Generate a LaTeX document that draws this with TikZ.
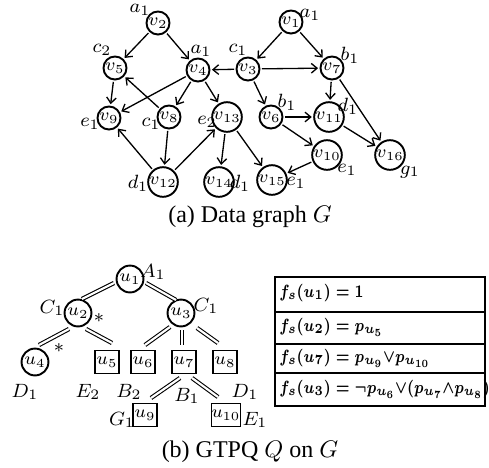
\RequirePackage{fix-cm}
\documentclass[tikz,border=0pt]{standalone}
\usepackage{amsmath}
\usepackage{fontspec}
\setmainfont{Liberation Serif}
\DeclareMathSizes{7.4}{7.4}{5.8}{4.6}
\usetikzlibrary{arrows.meta,calc}
\begin{document}
\begin{tikzpicture}[x=0.4167pt,y=-0.4167pt,
  vn/.style={circle,draw,line width=0.8pt,minimum size=9.6pt,inner sep=0pt,font=\fontsize{7.3}{8}\selectfont},
  un/.style={circle,draw,line width=0.8pt,minimum size=11.2pt,inner sep=0pt,font=\fontsize{7.3}{8}\selectfont},
  bx/.style={rectangle,draw,line width=0.8pt,minimum width=10pt,minimum height=9.6pt,inner sep=0pt,font=\fontsize{7.3}{8}\selectfont},
  lb/.style={inner sep=0pt,font=\fontsize{8}{10}\selectfont},
  captxt/.style={inner sep=0pt,font=\fontsize{10}{12}\selectfont},
  ar/.style={-{Straight Barb[length=2.4pt,width=4pt]},line width=0.55pt,shorten >=0.6pt,shorten <=0.6pt},
  dbl/.style={double,double distance=0.9pt,line width=0.45pt},
  tl/.style={line width=0.6pt},
  tt/.style={inner sep=0pt,anchor=base west,xscale=0.78,font=\fontsize{7.4}{9}\selectfont\boldmath}
]
\useasboundingbox (0,0) rectangle (489,468);
% ---------- (a) data graph ----------
\node[vn] (v1) at (291,22) {$v_1$};
\node[vn] (v2) at (158,23) {$v_2$};
\node[vn] (v3) at (248,69) {$v_3$};
\node[vn] (v4) at (198,70) {$v_4$};
\node[vn] (v5) at (115,68) {$v_5$};
\node[vn] (v6) at (271,117) {$v_6$};
\node[vn] (v7) at (332,68) {$v_7$};
\node[vn] (v8) at (169,117) {$v_8$};
\node[vn] (v9) at (109,118) {$v_9$};
\node[vn] (v10) at (327,155) {$v_{10}$};
\node[vn] (v11) at (329,117) {$v_{11}$};
\node[vn] (v12) at (163,182) {$v_{12}$};
\node[vn] (v13) at (227,117) {$v_{13}$};
\node[vn] (v14) at (219,182) {$v_{14}$};
\node[vn] (v15) at (272,180) {$v_{15}$};
\node[vn] (v16) at (390,155) {$v_{16}$};

\node[lb] (l1) at (310,15) {$a_1$};
\node[lb] (l2) at (140,10) {$a_1$};
\node[lb] (l3) at (238,50) {$c_1$};
\node[lb] (l4) at (201,51) {$a_1$};
\node[lb] (l5) at (102,50) {$c_2$};
\node[lb] (l6) at (287,102) {$b_1$};
\node[lb] (l7) at (350,55) {$b_1$};
\node[lb] (l8) at (151,124) {$c_1$};
\node[lb] (l9) at (90,124) {$e_1$};
\node[lb] (l10) at (347,170) {$e_1$};
\node[lb] (l11) at (348,106) {$d_1$};
\node[lb] (l12) at (138,183) {$d_1$};
\node[lb] (l13) at (207,122) {$e_2$};
\node[lb] (l14) at (240,183) {$d_1$};
\node[lb] (l15) at (296,183) {$e_1$};
\node[lb] (l16) at (410,172) {$g_1$};

\draw[ar] (v2) -- (v5);
\draw[ar] (v2) -- (v4);
\draw[ar] (v3) -- (v4);
\draw[ar] (v4) -- (v9);
\draw[ar] (v4) -- (v8);
\draw[ar] (v4) -- (v13);
\draw[ar] (v5) -- (v9);
\draw[ar] (v8) -- (v5);
\draw[ar] (v8) -- (v12);
\draw[ar] (v12) -- (v9);
\draw[ar] (v12) -- (v13);
\draw[ar] (v13) -- (v14);
\draw[ar] (v13) -- (v15);
\draw[ar] (v1) -- (v3);
\draw[ar] (v1) -- (v7);
\draw[ar] (v3) -- (v7);
\draw[ar] (v3) -- (v6);
\draw[ar] (v7) -- (v11);
\draw[ar] (v7) -- (v16);
\draw[ar] (v6) -- (v11);
\draw[ar] (v6) -- (v10);
\draw[ar] (v11) -- (v16);
\draw[ar] (v10) -- (v15);

\node[captxt] (capa) at (250,217) {(a) Data graph $G$};

% ---------- (b) GTPQ ----------
\node[un] (u1) at (130,279) {$u_1$};
\node[un] (u2) at (78,313) {$u_2$};
\node[un] (u3) at (181,313) {$u_3$};
\node[un] (u4) at (35,362) {$u_4$};
\node[bx] (u5) at (107,362) {$u_5$};
\node[bx] (u6) at (143,362) {$u_6$};
\node[bx] (u7) at (184,362) {$u_7$};
\node[bx] (u8) at (225,362) {$u_8$};
\node[bx] (u9) at (145,415) {$u_9$};
\node[bx] (u10) at (226,415) {$u_{\kern-0.3pt10}$};

\node[lb] (A1) at (153,272) {$A_1$};
\node[lb] (C1a) at (52,308) {$C_1$};
\node[lb] (s1) at (99,318) {$*$};
\node[lb] (C1b) at (206,306) {$C_1$};
\node[lb] (s2) at (59,348) {$*$};
\node[lb] (D1a) at (25,392) {$D_1$};
\node[lb] (E2) at (88,392) {$E_2$};
\node[lb] (B2) at (129,392) {$B_2$};
\node[lb] (B1) at (187,396) {$B_1$};
\node[lb] (D1b) at (245,392) {$D_1$};
\node[lb] (G1) at (122,420) {$G_1$};
\node[lb] (E1) at (255,420) {$E_1$};

\draw[dbl] ($(u1)+(-16,4)$) -- ($(u2)+(4,-14)$);
\draw[dbl] ($(u1)+(16,4)$) -- ($(u3)+(-5,-13)$);
\draw[dbl] ($(u2)+(-9,16)$) -- ($(u4)+(4,-17)$);
\draw[dbl] ($(u2)+(8,16)$) -- ($(u5)+(5,-19)$);
\draw[dbl] ($(u3)+(-11,14)$) -- ($(u6)+(2,-17)$);
\draw[dbl] ($(u3)+(1,17)$) -- ($(u7)+(-2,-17)$);
\draw[dbl] ($(u3)+(16,15)$) -- ($(u8)+(-7,-19)$);
\draw[dbl] ($(u7)+(-4,16)$) -- ($(u9)+(6,-17)$);
\draw[dbl] ($(u7)+(8,16)$) -- ($(u10)+(-8,-18)$);

% table
\draw[tl] (275,277) rectangle (485,406);
\draw[tl] (275,312) -- (485,312);
\draw[tl] (275,344) -- (485,344);
\draw[tl] (275,373) -- (485,373);
\node[tt] (f1) at (279,297) {$f_s(u_1) = 1$};
\node[tt] (f2) at (279,331) {$f_s(u_2) = p_{u_5}$};
\node[tt] (f3) at (279,362) {$f_s(u_7) = p_{u_9}{\vee}p_{u_{10}}$};
\node[tt] (f4) at (279,393) {$f_s(u_3) = \neg p_{u_6}{\vee}(p_{u_7}{\wedge}p_{u_8})$};

\node[captxt] (capb) at (250,452) {(b) GTPQ $Q$ on $G$};
\end{tikzpicture}
\end{document}
